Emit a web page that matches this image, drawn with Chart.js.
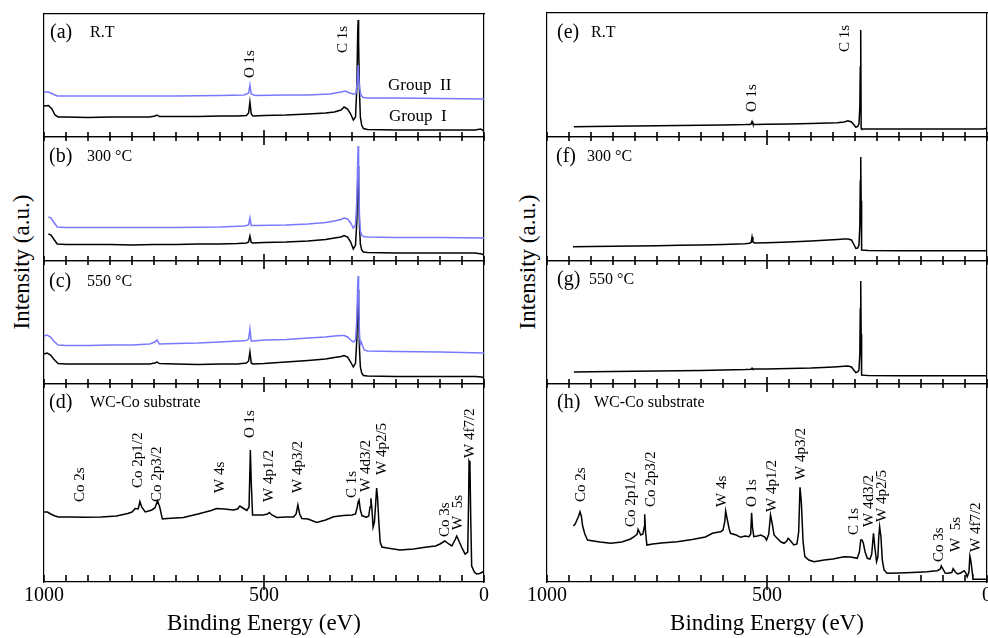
<!DOCTYPE html>
<html><head><meta charset="utf-8">
<script src="https://cdn.jsdelivr.net/npm/chart.js@4.4.1/dist/chart.umd.min.js"></script>
<style>
html,body{margin:0;padding:0;background:#fff;overflow:hidden;width:988px;height:638px;position:relative;}
.pane{position:absolute;top:0;height:638px;}
.ytitle{position:absolute;font-family:'Liberation Serif',serif;font-size:23px;white-space:nowrap;color:#000;transform:translate(-50%,-50%) rotate(-90deg);line-height:1;}
</style></head><body>
<div class="ytitle" style="left:21px;top:262px;">Intensity (a.u.)</div>
<div class="ytitle" style="left:527px;top:262px;">Intensity (a.u.)</div>
<script>
// ---------- axis ticks ----------
const tickValues = [0,50,100,150,200,250,300,350,400,450,500,550,600,650,700,750,800,850,900,950,1000];
const labeledTicks = [0,500,1000];
const majorTick = 500;
const xTitle = 'Binding Energy (eV)';

// ---------- (a) R.T ----------
const eA1 = [1000,990,982,975,968,950,900,850,800,760,748,743,738,700,650,600,560,540,535,532,529,525,500,450,400,360,340,325,318,310,303,297,292,289,287,286,285,283,281,278,274,265,200,150,100,50,20,8,3,0];
const iA1 = [31,31.5,28,22,20,20,19.5,20,20,20,21,22,20.5,20.5,20.5,21,21,21.5,24,35,23,21,21.5,22,23,24,25,27,30,28,23,17,20,50,105,117,95,45,20,12,8.5,7.5,7,7,7,7,7,8,7,5];
const eA2 = [1000,990,980,970,950,900,800,700,600,545,535,532,529,520,450,400,350,325,315,305,297,291,288,286,284,281,278,274,265,200,100,0];
const iA2 = [45,45,43,41,41,41,41,41,41.5,42,44,52,43,41.5,42,42,43,45,46,44,43,43.5,55,72,55,44,41,39.5,39,39,38.5,38];
// ---------- (b) 300 C ----------
const eB1 = [990,984,978,970,950,900,850,800,750,700,650,600,560,540,535,532,529,525,500,450,400,360,340,325,318,310,303,297,292,289,287,286,285,283,281,278,274,265,200,100,20,5,0];
const iB1 = [27,26,22,17,16.5,16.5,16.5,16,16.5,16.5,17,17,17.5,18,19,25,18.5,18,18.5,19,20,21.5,23,24,25.5,24,19,12,16,40,80,95,75,35,17,11,9,8.5,8,8,8,7,6];
const eB2 = [990,984,978,970,950,900,800,700,600,545,535,532,529,520,450,400,360,340,325,318,310,303,297,292,289,287,286,285,283,281,278,274,265,200,100,0];
const iB2 = [44,43,39,34,33.5,33.5,33.5,33.5,34,35,36,43,35.5,35.5,36,37,38.5,40,41.5,43,42,38,33,36,60,100,115,95,45,30,26,24.5,24,23.5,23.5,23];
// ---------- (c) 550 C ----------
const eC1 = [1000,993,985,978,968,950,900,850,800,760,748,743,738,700,650,600,560,540,535,532,529,525,500,450,400,360,340,325,318,310,303,297,292,289,287,286,285,283,281,278,274,265,200,100,20,5,0];
const iC1 = [30,31,29,25,20.5,20,20,20,20,20,21,22,20.5,20,19.5,20,20,21,23,32,21,20,20.5,22,23.5,25,26.5,27.5,28.5,27,22,17,21,45,80,94,75,35,17,11,8.5,8,7.5,7.5,7.5,7,6];
const eC2 = [1000,993,985,978,968,950,900,850,800,760,748,743,738,700,650,600,560,540,535,532,529,525,500,450,400,360,340,325,318,310,303,297,292,289,287,286,285,283,281,279,276,272,265,200,100,0];
const iC2 = [48,49,47,43,39,38.5,38.5,39,39,40,42,44,40,40.5,41,42,43,43.5,45,55,43,43,44,44.5,46,47,48,48.5,48.5,47,44,42,44,65,100,108,90,50,40,42,38,34,33,32.5,32,31];
// ---------- (d) WC-Co substrate (left) ----------
const eD = [1000,992,985,975,967,940,911,870,835,810,800,793,786,782,778,770,762,755,748,742,737,731,720,683,650,620,608,590,570,560,555,548,539,534,531,529,526,515,502,492,488,482,471,450,433,427,423,419,414,400,380,360,342,320,300,292,288,286,284,281,277,274,268,262,259,257,255,252,249,246,244,242,239,236,232,220,191,160,130,110,100,89,80,73,66,62,58,51,43,37,35,34,32,30,28,22,17,10,3,0];
const iD = [70,70,68,66,65,65,64.7,65,66,68.5,70,73.5,73,80.5,75,70,71,72,74,81,75,63,63.5,64.5,68,71.5,73.5,73,72,73,76,74,71.5,75,132,100,67,67,67,68,69.5,67,64.5,65,65,68,77,68,63.5,63,59.5,62,65.3,66.5,67,68,75,80,82,72,66,66,64.7,66,75,83.7,75,55,60,80,94,85,60,40,35,34,32,33,35,36,38,41,38,36,42,46,42,35,28,30,80,121,119,60,16,10,8,8.5,10,9];
// ---------- (e) R.T ----------
const eE = [939,900,850,800,750,700,650,600,550,540,536,534,532,528,500,450,400,360,340,325,316,308,302,298,294,291,289,288,287,286,285,278,270,200,100,50,10,3,0];
const iE = [10.3,10.5,10.8,11,11.2,11.5,11.7,12,12.4,12.6,13,15.5,13,12.6,12.8,13,13.5,14,14.3,15,16.3,15,12,9.7,10.5,13,30,70,107,8.5,8,8,8,8,8,8,8,8.5,8];
// ---------- (f) 300 C ----------
const eF = [941,900,850,800,750,700,650,600,550,540,536,534,532,528,500,450,400,360,340,325,316,308,302,298,294,291,289,288,287,286,285,278,270,200,100,0];
const iF = [14.3,14.5,14.8,15,15.3,15.7,16,16.5,17.2,17.7,18.5,24,19,18,18.3,19,20,21,21.5,22,22,21,16,12.7,13,16,35,80,104,60,11,10.8,10.5,10.3,10.3,10.3];
// ---------- (g) 550 C ----------
const eG = [939,900,850,800,750,700,650,600,550,536,534,532,500,450,400,360,340,325,316,308,302,298,294,291,289,288,287,286,285,278,270,200,100,0];
const iG = [12,12.2,12.5,12.7,13,13.3,13.6,14,14.5,14.8,15.8,14.9,15,15.5,16,16.8,17.3,17.8,18,17,13.5,11.3,12,14,30,75,103,50,9,8.7,8.5,8.3,8.3,8.3];
// ---------- (h) WC-Co substrate (right) ----------
const eH = [940,936,932,928,925,922,919,914,908,880,855,830,810,802,795,793,790,787,782,779,778,776,773,760,740,704,670,640,624,610,605,600,596,594,590,586,583,570,560,550,541,537,535,533,530,522,514,505,501,496,492,488,484,477,468,461,455,452,448,439,432,428,425,422,418,414,405,393,370,350,325,310,295,290,287,284,281,277,272,266,262,258,255,251,248,246,244,241,238,234,227,200,170,136,120,113,106,104,100,95,90,80,77,72,67,60,52,48,45,41,39,37,35,33,32,20,10,1];
const iH = [56,58,62,66,70.3,66,56,48,42,40,38.7,40,43,45.3,48,52.7,50,47,48,55,67.7,50,37,38,39,40.3,42.5,45,48.7,50,50.3,52,60,71,62,53,48.7,47,44.7,46,45.3,48,69.3,55,45.3,46,47,45,42,48,67,58,47,43.7,40,38.7,41,43.7,42,37,38,50,94.7,80,40,25.3,22,20.3,22,23,25.3,25,23.7,30,42,42,38.7,30,23.7,23,28,48.7,35,20.3,25,45,55.3,45,22,12,8.7,9,9.5,10.3,11,11.3,13,16,13,9,8.7,9.5,13.3,10,8,9,11.3,9,5.3,10,26,22,15.3,8,2.7,2.7,2.7,2.7];

// ---------- peak labels: text, energy, intensity at text start ----------
const peaksA = [['O 1s',532,59],['C 1s',320,84]];
const groupsA = [['Group  II',218,51],['Group  I',216,20]];
const peaksD = [['Co 2s',918,80],['Co 2p1/2',786,94],['Co 2p3/2',743,80],['W 4s',600,89],['O 1s',532,144],['W 4p1/2',489,80],['W 4p3/2',423,89],['C 1s',300,84],['W 4d3/2',268,90],['W 4p2/5',232,107],['Co 3s',89,45],['W  5s',59,52],['W 4f7/2',32,124]];
const peaksE = [['O 1s',534,25],['C 1s',323,85]];
const peaksH = [['Co 2s',923,80],['Co 2p1/2',809,55],['Co 2p3/2',764,75],['W 4s',602,75],['O 1s',534,75],['W 4p1/2',489,70],['W 4p3/2',423,102],['C 1s',302,47],['W 4d3/2',268,55],['W 4p2/5',239,60],['Co 3s',109,20],['W  5s',70,30],['W 4f7/2',25,30]];

const BLACK = '#000000', BLUE = '#7878ff';
const TICK_COLOR = '#000000';
const FONT = "'Liberation Serif', 'Times New Roman', serif";

const COLS = {
  L: {left:0, width:494, padL:44, padR:10},
  R: {left:494, width:506, padL:53, padR:13}
};

const panels = [
  {col:'L', top:14, bottom:137, ymax:123, tag:'(a)', tagDx:6, tagDy:19, sub:'R.T', subDx:46, bottomAxis:false,
   series:[[eA1,iA1,BLACK],[eA2,iA2,BLUE]], peaks:peaksA, groups:groupsA},
  {col:'L', top:137, bottom:261, ymax:124, tag:'(b)', tagDx:5, tagDy:20, sub:'300 °C', subDx:43, bottomAxis:false,
   series:[[eB1,iB1,BLACK],[eB2,iB2,BLUE]], peaks:[], groups:[]},
  {col:'L', top:261, bottom:384, ymax:123, tag:'(c)', tagDx:5, tagDy:21, sub:'550 °C', subDx:43, bottomAxis:false,
   series:[[eC1,iC1,BLACK],[eC2,iC2,BLUE]], peaks:[], groups:[]},
  {col:'L', top:384, bottom:582, ymax:198, tag:'(d)', tagDx:5, tagDy:19, sub:'WC-Co substrate', subDx:46, bottomAxis:true,
   series:[[eD,iD,BLACK]], peaks:peaksD, groups:[]},
  {col:'R', top:13, bottom:137, ymax:124, tag:'(e)', tagDx:10, tagDy:20, sub:'R.T', subDx:44, bottomAxis:false,
   series:[[eE,iE,BLACK]], peaks:peaksE, groups:[]},
  {col:'R', top:137, bottom:261, ymax:124, tag:'(f)', tagDx:9, tagDy:20, sub:'300 °C', subDx:40, bottomAxis:false,
   series:[[eF,iF,BLACK]], peaks:[], groups:[]},
  {col:'R', top:261, bottom:384, ymax:123, tag:'(g)', tagDx:10, tagDy:19, sub:'550 °C', subDx:42, bottomAxis:false,
   series:[[eG,iG,BLACK]], peaks:[], groups:[]},
  {col:'R', top:384, bottom:582, ymax:198, tag:'(h)', tagDx:10, tagDy:19, sub:'WC-Co substrate', subDx:47, bottomAxis:true,
   series:[[eH,iH,BLACK]], peaks:peaksH, groups:[]}
];

function textPlugin(p) {
  return {
    id: 'panelText',
    afterDatasetsDraw(chart) {
      const ctx = chart.ctx, ca = chart.chartArea;
      const xs = chart.scales.x, ys = chart.scales.y;
      ctx.save();
      // tick marks on the bottom edge, placed by the x scale
      ctx.strokeStyle = TICK_COLOR;
      ctx.lineWidth = 1.6;
      const yb = Math.round(ca.bottom);
      tickValues.forEach(v => {
        const px = Math.round(xs.getPixelForValue(v));
        let up, down;
        if (v === majorTick) { up = 7; down = 8; }
        else if (p.bottomAxis) { up = 7; down = 0; }
        else { up = 5; down = 4; }
        ctx.beginPath();
        ctx.moveTo(px, yb - up);
        ctx.lineTo(px, yb + down);
        ctx.stroke();
      });
      ctx.fillStyle = '#000';
      ctx.textBaseline = 'middle';
      ctx.textAlign = 'left';
      ctx.font = '20px ' + FONT;
      ctx.fillText(p.tag, ca.left + p.tagDx, ca.top + p.tagDy);
      ctx.font = '16px ' + FONT;
      ctx.fillText(p.sub, ca.left + p.subDx, ca.top + p.tagDy);
      ctx.font = '15px ' + FONT;
      p.peaks.forEach(([t, e, v]) => {
        const px = xs.getPixelForValue(e), py = ys.getPixelForValue(v);
        ctx.save();
        ctx.translate(px, py);
        ctx.rotate(-Math.PI / 2);
        ctx.fillText(t, 0, 0);
        ctx.restore();
      });
      ctx.font = '17px ' + FONT;
      p.groups.forEach(([t, e, v]) => {
        ctx.fillText(t, xs.getPixelForValue(e), ys.getPixelForValue(v));
      });
      ctx.restore();
    }
  };
}

panels.forEach((p) => {
  const col = COLS[p.col];
  const div = document.createElement('div');
  div.className = 'pane';
  div.style.left = col.left + 'px';
  div.style.width = col.width + 'px';
  const cv = document.createElement('canvas');
  div.appendChild(cv);
  document.body.appendChild(div);

  const datasets = p.series.map(([E, I, color], k) => ({
    data: E.map((e, i) => ({x: e, y: I[i]})),
    borderColor: color,
    borderWidth: 1.5,
    pointRadius: 0,
    tension: 0,
    fill: false,
    order: p.series.length - k,
    xAxisID: 'x',
    yAxisID: 'y'
  }));

  const bottomH = p.bottomAxis ? 638 - p.bottom : 0;
  new Chart(cv, {
    type: 'line',
    data: {datasets},
    options: {
      responsive: true,
      maintainAspectRatio: false,
      animation: false,
      devicePixelRatio: 1,
      events: [],
      layout: {padding: {left: col.padL, right: col.padR, top: p.top, bottom: p.bottomAxis ? 0 : 638 - p.bottom}},
      plugins: {legend: {display: false}, tooltip: {enabled: false}},
      scales: {
        x: {
          type: 'linear', position: 'bottom', min: 0, max: 1000, reverse: true,
          afterBuildTicks: s => { s.ticks = tickValues.map(v => ({value: v})); },
          afterFit: s => { s.height = bottomH; },
          ticks: {
            display: p.bottomAxis, autoSkip: false, maxRotation: 0, minRotation: 0, padding: 2,
            color: '#000', font: {family: FONT, size: 20},
            callback: v => labeledTicks.includes(v) ? String(v) : ''
          },
          grid: {display: false, drawOnChartArea: false, drawTicks: false},
          border: {display: true, color: '#000', width: 1.2},
          title: {display: p.bottomAxis, text: xTitle, color: '#000', font: {family: FONT, size: 23}, padding: {top: 0, bottom: 0}}
        },
        x2: {
          type: 'linear', position: 'top', min: 0, max: 1000, reverse: true,
          afterFit: s => { s.height = 0; },
          ticks: {display: false},
          grid: {display: false, drawOnChartArea: false, drawTicks: false},
          border: {display: true, color: '#000', width: 1.2}
        },
        y: {
          type: 'linear', position: 'left', min: 0, max: p.ymax,
          afterFit: s => { s.width = 0; },
          ticks: {display: false},
          grid: {display: false, drawTicks: false, drawOnChartArea: false},
          border: {display: true, color: '#000', width: 1.2}
        },
        y2: {
          type: 'linear', position: 'right', min: 0, max: p.ymax,
          afterFit: s => { s.width = 0; },
          ticks: {display: false},
          grid: {display: false, drawTicks: false, drawOnChartArea: false},
          border: {display: true, color: '#000', width: 1.2}
        }
      }
    },
    plugins: [textPlugin(p)]
  });
});
</script>
</body></html>
